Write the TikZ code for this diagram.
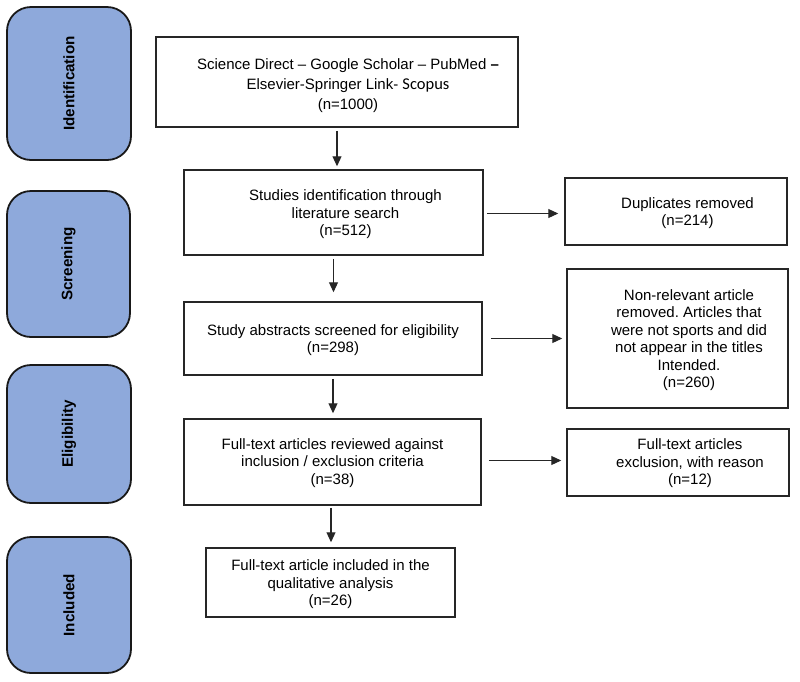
\documentclass[tikz,border=0pt]{standalone}
\usepackage{fontspec}
\setmainfont{Liberation Sans}
\newfontfamily\carlitofont{Carlito}
\usetikzlibrary{arrows.meta}
\definecolor{stageblue}{HTML}{8EA9DB}
\frenchspacing
\newcommand{\boxtxt}[3]{\hspace*{#1}\raisebox{0pt}[\dimexpr\height+#2\relax][\depth]{\begin{tabular}{@{}c@{}}#3\end{tabular}}}
\begin{document}
\begin{tikzpicture}[x=1pt,y=-1pt,
  stage/.style={draw=black!90, line width=1.8pt, fill=stageblue, rounded corners=24pt, inner sep=0pt,
                font=\fontsize{15.2}{18}\selectfont\bfseries},
  flowbox/.style={draw=black!85, line width=1.5pt, inner sep=0pt, font=\fontsize{15}{17.5}\selectfont},
  arr/.style={draw=black!85, line width=1.1pt, -{Triangle[length=10pt,width=9pt]}}
]
\useasboundingbox (0,0) rectangle (800,681);
\fill[white] (0,0) rectangle (800,681);

% stage boxes
\node[stage, minimum width=124pt, minimum height=153pt] (sid) at (69,83.5) {\rotatebox{90}{Identification}};
\node[stage, minimum width=123pt, minimum height=146pt] (sscr) at (68.5,264) {\rotatebox{90}{Screening}};
\node[stage, minimum width=124pt, minimum height=138pt] (seli) at (69,434) {\rotatebox{90}{Eligibility}};
\node[stage, minimum width=124pt, minimum height=136pt] (sinc) at (69,605) {\rotatebox{90}{Included}};

% main flow boxes
\node[flowbox, minimum width=362pt, minimum height=90pt] (b1) at (337,82)
  {\boxtxt{22pt}{8pt}{Science Direct -- Google Scholar -- PubMed \textbf{--}\\[2.5pt] Elsevier-Springer Link- {\carlitofont\fontsize{16.5}{18}\selectfont Scopus}\\[2pt] (n=1000)}};
\node[flowbox, minimum width=299pt, minimum height=85pt] (b2) at (333.5,212.5)
  {\boxtxt{24pt}{4pt}{Studies identification through\\ literature search\\ (n=512)}};
\node[flowbox, minimum width=298pt, minimum height=73pt] (b3) at (333,338.5)
  {\boxtxt{0pt}{4pt}{Study abstracts screened for eligibility\\ (n=298)}};
\node[flowbox, minimum width=297pt, minimum height=86pt] (b4) at (332.5,462)
  {\boxtxt{0pt}{2pt}{Full-text articles reviewed against\\ inclusion / exclusion criteria\\ (n=38)}};
\node[flowbox, minimum width=249pt, minimum height=69pt] (b5) at (330.5,582.5)
  {\boxtxt{0pt}{4pt}{Full-text article included in the\\ qualitative analysis\\ (n=26)}};

% side boxes
\node[flowbox, minimum width=222pt, minimum height=67pt] (dup) at (676,211.5)
  {\boxtxt{23pt}{4pt}{Duplicates removed\\ (n=214)}};
\node[flowbox, minimum width=221pt, minimum height=139pt] (nonrel) at (677.5,338.5)
  {\boxtxt{23pt}{4pt}{Non-relevant article\\ removed. Articles that\\ were not sports and did\\ not appear in the titles\\ Intended.\\ (n=260)}};
\node[flowbox, minimum width=222pt, minimum height=67pt] (fex) at (678,462.5)
  {\boxtxt{24pt}{2pt}{Full-text articles\\ exclusion, with reason\\ (n=12)}};

% vertical arrows
\draw[arr, shorten <=3pt, shorten >=3pt] (b1.south) -- (b1.south |- b2.north);
\draw[arr, shorten <=3pt, shorten >=9pt] (b2.south) -- (b2.south |- b3.north);
\draw[arr, shorten <=3pt, shorten >=5pt] (b3.south) -- (b3.south |- b4.north);
\draw[arr, shorten <=2pt, shorten >=5pt] ([xshift=-1.5pt]b4.south) -- ([xshift=-1.5pt]b4.south |- b5.north);

% horizontal arrows
\draw[arr, shorten <=3pt, shorten >=6pt] ([yshift=-1pt]b2.east) -- ([yshift=-1pt]b2.east -| dup.west);
\draw[arr, shorten <=8pt, shorten >=4pt] (b3.east) -- (b3.east -| nonrel.west);
\draw[arr, shorten <=7pt, shorten >=5pt] ([yshift=1.5pt]b4.east) -- ([yshift=1.5pt]b4.east -| fex.west);
\end{tikzpicture}
\end{document}
